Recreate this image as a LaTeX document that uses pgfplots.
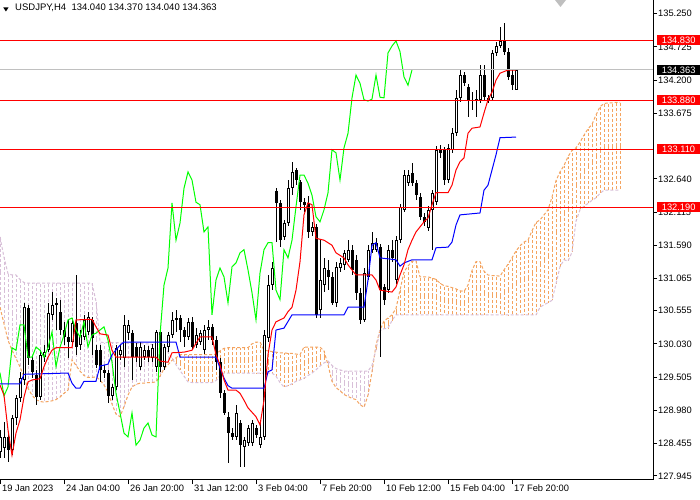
\documentclass[border=0pt]{standalone}
\usepackage{fontspec}
\setmainfont{Liberation Sans}
\usepackage{pgfplots}
\pgfplotsset{compat=1.18}
\usepackage{pgfplotstable}
\definecolor{sandy}{RGB}{244,164,96}
\definecolor{thistlec}{RGB}{216,191,216}
\definecolor{limeg}{RGB}{0,255,0}
\definecolor{silverc}{RGB}{192,192,192}

\pgfplotstableread{
i O H L C
0 128.32 128.67 128.23 128.56
1 128.39 128.80 128.23 128.56
2 128.56 128.62 128.16 128.35
3 128.35 128.91 128.27 128.86
4 128.86 129.22 128.75 129.18
5 129.18 129.59 129.11 129.49
6 129.46 130.68 129.38 130.61
7 130.60 130.65 129.70 129.81
8 129.78 129.86 129.49 129.59
9 129.54 129.62 129.07 129.19
10 129.19 129.93 129.14 129.86
11 129.82 130.01 129.75 129.90
12 129.93 130.68 129.90 130.52
13 130.49 130.85 130.41 130.65
14 130.65 130.76 130.25 130.68
15 130.54 130.73 130.17 130.25
16 130.25 130.38 130.01 130.14
17 130.14 130.41 129.81 130.06
18 130.06 130.44 130.01 130.36
19 130.36 131.12 129.86 129.98
20 130.01 130.25 129.93 130.17
21 130.14 130.49 130.09 130.41
22 130.22 130.54 130.17 130.46
23 130.41 130.46 129.86 130.12
24 129.93 130.01 129.65 129.70
25 129.93 130.01 129.43 129.62
26 129.62 129.70 129.49 129.57
27 129.57 129.62 129.10 129.21
28 129.21 129.40 129.14 129.35
29 129.35 130.01 129.30 129.97
30 129.86 130.01 129.78 129.93
31 129.81 130.49 129.67 130.33
32 130.20 130.41 130.09 130.33
33 130.20 130.25 129.46 129.82
34 129.98 130.05 129.75 129.82
35 129.67 130.06 129.62 129.98
36 129.82 130.01 129.78 129.93
37 129.93 130.00 129.75 129.82
38 129.81 130.03 129.75 129.97
39 129.67 130.25 129.59 130.22
40 130.22 130.28 129.59 129.67
41 129.67 130.03 129.62 129.98
42 129.98 130.22 129.90 130.17
43 130.17 130.54 130.12 130.41
44 130.41 130.57 130.22 130.44
45 130.44 130.49 130.06 130.25
46 130.25 130.30 129.98 130.14
47 130.14 130.44 130.09 130.38
48 130.38 130.46 129.93 129.98
49 130.01 130.28 129.97 130.17
50 130.06 130.25 130.01 130.20
51 129.93 130.33 129.87 130.25
52 130.25 130.41 130.09 130.30
53 130.30 130.35 130.01 130.09
54 130.09 130.16 129.62 129.74
55 129.74 129.81 129.18 129.25
56 129.25 129.30 128.91 128.94
57 128.88 128.95 128.15 128.62
58 128.62 128.70 128.51 128.56
59 128.56 129.07 128.51 128.94
60 128.78 128.83 128.08 128.43
61 128.40 128.56 128.08 128.51
62 128.46 128.75 128.42 128.70
63 128.46 128.83 128.42 128.78
64 128.70 128.75 128.54 128.59
65 128.43 128.83 128.39 128.56
66 128.56 130.25 128.51 130.17
67 130.12 131.12 130.06 130.96
68 130.96 131.33 130.88 131.23
69 132.45 132.50 131.64 132.26
70 132.26 132.31 131.56 131.67
71 131.72 131.99 131.67 131.94
72 131.94 132.62 131.89 132.49
73 132.49 132.91 132.38 132.75
74 132.78 132.81 132.54 132.62
75 132.59 132.62 132.15 132.27
76 132.27 132.34 132.12 132.23
77 132.26 132.37 131.71 131.80
78 131.80 131.96 131.74 131.88
79 131.88 131.93 130.44 130.49
80 130.57 131.67 130.44 131.04
81 130.96 131.39 130.85 131.23
82 131.20 131.36 130.88 131.09
83 131.09 131.17 130.65 130.68
84 130.68 131.33 130.61 131.25
85 131.23 131.39 131.17 131.31
86 131.28 131.52 131.20 131.47
87 131.36 131.67 131.33 131.52
88 131.52 131.59 131.12 131.20
89 131.36 131.44 130.73 130.84
90 130.84 130.91 130.35 130.41
91 130.41 131.23 130.38 131.15
92 131.09 131.59 131.04 131.52
93 131.52 131.80 131.47 131.63
94 131.52 131.70 131.48 131.63
95 131.56 131.61 129.82 130.88
96 130.93 130.98 130.65 130.73
97 130.88 131.59 130.84 131.52
98 131.52 131.67 131.33 131.39
99 131.04 131.74 130.98 131.67
100 131.67 132.24 131.63 132.20
101 132.15 132.78 132.12 132.70
102 132.57 132.78 132.53 132.70
103 132.73 132.89 132.53 132.57
104 132.57 132.62 132.31 132.38
105 132.35 132.42 131.99 132.04
106 132.04 132.10 131.89 131.96
107 131.86 132.21 131.81 132.15
108 132.15 132.46 131.52 132.42
109 132.27 133.16 132.23 133.10
110 133.10 133.18 132.97 133.05
111 133.10 133.14 132.54 132.62
112 132.62 133.19 132.57 133.13
113 133.10 133.44 133.05 133.36
114 133.36 134.04 133.32 133.92
115 133.92 134.36 133.85 134.28
116 134.28 134.33 134.11 134.15
117 134.09 134.14 133.62 133.89
118 133.89 134.01 133.73 133.87
119 133.89 134.04 133.62 133.90
120 133.89 134.44 133.84 134.28
121 134.28 134.44 133.89 133.93
122 133.89 133.97 133.84 133.92
123 133.92 134.68 133.87 134.63
124 134.63 134.80 134.58 134.74
125 134.74 135.04 134.71 134.82
126 134.82 135.10 134.60 134.65
127 134.65 134.71 134.20 134.25
128 134.28 134.36 134.04 134.12
129 134.040 134.370 134.040 134.363
}\candles

% Senkou span A and B, one row per bar (already shifted forward)
\pgfplotstableread{
i a b
0 130.61 131.72
1 130.35 131.40
2 130.09 131.14
3 129.93 131.12
4 129.80 131.12
5 129.67 131.05
6 129.50 131.00
7 129.33 130.99
8 129.22 130.99
9 129.15 130.99
10 129.12 130.99
11 129.11 130.99
12 129.12 130.99
13 129.13 130.99
14 129.15 130.99
15 129.19 130.99
16 129.25 130.99
17 129.30 130.99
18 129.78 130.99
19 129.69 130.99
20 129.60 130.99
21 129.53 130.99
22 129.50 130.99
23 129.50 130.99
24 129.51 130.70
25 129.46 130.06
26 129.38 130.05
27 129.27 130.05
28 129.08 130.05
29 128.92 130.05
30 128.88 130.05
31 129.04 130.05
32 129.22 130.04
33 129.35 130.04
34 129.39 130.04
35 129.41 130.04
36 129.41 130.03
37 129.42 130.03
38 129.42 130.02
39 129.43 130.02
40 129.52 130.01
41 129.64 130.01
42 129.70 129.90
43 129.77 129.81
44 129.81 129.70
45 129.86 129.61
46 129.86 129.52
47 129.86 129.43
48 129.86 129.42
49 129.86 129.42
50 129.86 129.42
51 129.86 129.42
52 129.86 129.42
53 129.86 129.42
54 129.87 129.45
55 129.92 129.53
56 129.96 129.57
57 129.97 129.57
58 129.97 129.57
59 129.97 129.57
60 129.97 129.57
61 129.97 129.57
62 129.97 129.57
63 130.03 129.57
64 130.06 129.57
65 130.06 129.57
66 129.93 129.57
67 129.92 129.57
68 129.91 129.57
69 129.90 129.52
70 129.89 129.42
71 129.89 129.35
72 129.88 129.37
73 129.88 129.40
74 129.87 129.44
75 129.86 129.46
76 129.98 129.49
77 129.98 129.53
78 129.98 129.57
79 129.98 129.62
80 129.98 129.68
81 129.92 129.73
82 129.70 129.76
83 129.44 129.69
84 129.34 129.64
85 129.29 129.62
86 129.23 129.60
87 129.20 129.60
88 129.17 129.60
89 129.15 129.60
90 129.07 129.60
91 129.03 129.60
92 129.22 129.60
93 129.59 129.69
94 130.01 129.94
95 130.25 130.24
96 130.39 130.27
97 130.44 130.28
98 130.49 130.40
99 130.59 130.49
100 130.88 130.49
101 131.17 130.49
102 131.26 130.49
103 131.34 130.49
104 131.34 130.49
105 131.09 130.49
106 131.09 130.49
107 131.09 130.49
108 131.07 130.49
109 131.05 130.49
110 130.99 130.49
111 130.95 130.49
112 130.94 130.49
113 130.92 130.49
114 130.90 130.49
115 130.87 130.49
116 130.86 130.49
117 130.96 130.49
118 131.19 130.49
119 131.33 130.49
120 131.33 130.49
121 131.18 130.49
122 131.12 130.49
123 131.11 130.49
124 131.11 130.49
125 131.10 130.49
126 131.20 130.49
127 131.29 130.49
128 131.39 130.49
129 131.50 130.49
130 131.58 130.49
131 131.64 130.49
132 131.67 130.49
133 131.82 130.49
134 131.95 130.49
135 131.99 130.61
136 132.07 130.65
137 132.15 130.68
138 132.35 130.72
139 132.61 130.98
140 132.75 131.25
141 132.85 131.36
142 132.99 131.34
143 133.09 131.48
144 133.13 131.97
145 133.22 132.15
146 133.33 132.21
147 133.43 132.25
148 133.50 132.30
149 133.65 132.34
150 133.78 132.41
151 133.83 132.46
152 133.84 132.46
153 133.84 132.46
154 133.85 132.46
155 133.85 132.46
}\spans

\pgfplotstableread{
i t
0 129.38
1 129.22
2 128.67
3 128.27
4 128.62
5 128.83
6 129.19
7 129.43
8 129.46
10 129.48
11 129.67
12 129.82
13 129.93
14 129.97
18 129.97
19 130.41
23 130.42
24 130.30
25 130.19
27 130.17
28 129.93
29 129.82
39 129.82
40 129.76
42 129.74
43 129.89
46 129.90
48 129.93
49 130.04
50 130.14
53 130.14
54 129.86
55 129.70
56 129.46
57 129.30
59 129.30
60 129.25
61 129.14
62 129.02
63 128.95
64 128.88
65 128.75
66 129.14
67 129.86
68 130.25
69 130.38
71 130.44
72 130.54
73 130.61
74 130.88
75 131.33
76 132.07
77 132.26
78 132.23
79 131.70
81 131.67
83 131.59
84 131.47
86 131.39
87 131.28
89 131.12
93 131.12
94 131.04
95 130.88
98 130.85
99 130.93
100 131.12
101 131.28
102 131.52
103 131.67
104 131.80
106 131.96
107 132.02
108 132.23
109 132.42
112 132.42
113 132.54
114 132.78
115 132.91
116 132.97
117 133.36
118 133.44
120 133.46
121 133.68
122 133.89
123 134.01
124 134.20
125 134.31
127 134.36
129 134.36
}\tenkan

\pgfplotstableread{
i k
0 129.40
5 129.40
6 129.55
17 129.57
18 129.41
19 129.33
20 129.33
21 129.44
24 129.44
25 129.68
27 129.71
28 129.86
30 130.01
31 130.06
44 130.06
45 129.82
54 129.82
55 129.65
56 129.49
57 129.37
58 129.33
66 129.33
67 129.59
68 129.62
69 130.25
71 130.28
73 130.49
86 130.49
87 130.61
91 130.61
92 131.04
93 131.59
94 131.63
95 131.39
99 131.36
100 131.26
101 131.31
103 131.36
108 131.36
109 131.55
112 131.56
113 131.64
114 131.91
115 132.07
120 132.10
121 132.46
122 132.54
123 132.78
124 133.02
125 133.29
129 133.30
}\kijun

\begin{document}
\begin{tikzpicture}
\path[use as bounding box, fill=white] (0,0) rectangle (700bp,500bp);
\begin{axis}[
  at={(0bp,20bp)}, anchor=south west,
  scale only axis, width=653bp, height=480bp,
  xmin=0, xmax=163.25, ymin=127.879, ymax=135.467,
  axis x line*=bottom, axis y line*=right,
  axis line style={black, line width=1bp, -},
  tick style={black, line width=1bp},
  tick align=outside, major tick length=4bp,
  xtick={0,16,32,48,64,80,96,112,128},
  xticklabels={19 Jan 2023, 24 Jan 04:00, 26 Jan 20:00, 31 Jan 12:00, 3 Feb 04:00, 7 Feb 20:00, 10 Feb 12:00, 15 Feb 04:00, 17 Feb 20:00},
  ytick={127.945,128.455,128.980,129.505,130.030,130.555,131.065,131.590,132.115,132.640,133.675,134.200,134.725,135.250},
  /pgf/number format/assume math mode=true,
  /pgf/number format/fixed,
  /pgf/number format/fixed zerofill,
  /pgf/number format/precision=3,
  tick label style={font=\fontsize{9.3bp}{10bp}\selectfont, text=black},
  xticklabel style={anchor=north west, inner sep=0pt, xshift=2bp, yshift=-1bp},
  yticklabel style={anchor=west, inner sep=0pt, xshift=1bp},
  ebar/.style={draw=none, mark=none, forget plot, error bars/y dir=both, error bars/y explicit, error bars/error mark=none},
]
% cloud hatch: one dotted vertical line per bar between span A and span B
\addplot[ebar, restrict expr to domain={\thisrow{a}-\thisrow{b}}{0:20},
  error bars/error bar style={draw=sandy, line width=1bp, dash pattern=on 3bp off 2bp}]
  table[x=i, y expr={(\thisrow{a}+\thisrow{b})/2}, y error expr={abs(\thisrow{a}-\thisrow{b})/2}] {\spans};
\addplot[ebar, restrict expr to domain={\thisrow{b}-\thisrow{a}}{0:20},
  error bars/error bar style={draw=thistlec, line width=1bp, dash pattern=on 3bp off 2bp}]
  table[x=i, y expr={(\thisrow{a}+\thisrow{b})/2}, y error expr={abs(\thisrow{a}-\thisrow{b})/2}] {\spans};
\addplot[sandy, line width=1bp, dash pattern=on 3bp off 2bp] table[x=i, y=a] {\spans};
\addplot[thistlec, line width=1bp, dash pattern=on 3bp off 2bp] table[x=i, y=b] {\spans};
% candles: wicks
\addplot[ebar, error bars/error bar style={draw=black, solid, line width=1bp}]
  table[x=i, y expr={(\thisrow{H}+\thisrow{L})/2}, y error expr={(\thisrow{H}-\thisrow{L})/2}] {\candles};
% bodies
\addplot[ebar, error bars/error bar style={draw=black, solid, line width=3bp}]
  table[x=i, y expr={(\thisrow{O}+\thisrow{C})/2}, y error expr={max(abs(\thisrow{C}-\thisrow{O})/2,0.008)}] {\candles};
% hollow interiors of rising candles
\addplot[ebar, restrict expr to domain={\thisrow{C}-\thisrow{O}}{0.035:100},
  error bars/error bar style={draw=white, solid, line width=1bp}]
  table[x=i, y expr={(\thisrow{O}+\thisrow{C})/2}, y error expr={(\thisrow{C}-\thisrow{O})/2-0.0158}] {\candles};
% ichimoku lines
\addplot[limeg, line width=1bp] table[x expr=\thisrow{i}-26, y=C] {\candles};
\addplot[blue, line width=1bp] table[x=i, y=k] {\kijun};
\addplot[red, line width=1bp] table[x=i, y=t] {\tenkan};
% horizontal levels
\addplot[silverc, line width=1bp] coordinates {(0,134.363) (163.25,134.363)};
\addplot[red, line width=1bp] coordinates {(0,134.83) (163.25,134.83)};
\addplot[red, line width=1bp] coordinates {(0,133.88) (163.25,133.88)};
\addplot[red, line width=1bp] coordinates {(0,133.11) (163.25,133.11)};
\addplot[red, line width=1bp] coordinates {(0,132.19) (163.25,132.19)};
\coordinate (h1) at (axis cs:163.25,134.83);
\coordinate (h2) at (axis cs:163.25,133.88);
\coordinate (h3) at (axis cs:163.25,133.11);
\coordinate (h4) at (axis cs:163.25,132.19);
\coordinate (hp) at (axis cs:163.25,134.363);
\end{axis}
\tikzset{lvl/.style={anchor=west, inner sep=0pt, minimum width=43bp, minimum height=10bp, text=white, font=\fontsize{9.3bp}{10bp}\selectfont}}
\node[lvl, fill=red] at ([xshift=4bp]h1) {134.830};
\node[lvl, fill=red] at ([xshift=4bp]h2) {133.880};
\node[lvl, fill=red] at ([xshift=4bp]h3) {133.110};
\node[lvl, fill=red] at ([xshift=4bp]h4) {132.190};
\node[lvl, fill=black] at ([xshift=4bp]hp) {134.363};
\fill[black] (3.3bp,492.5bp) -- (8.5bp,492.5bp) -- (5.9bp,488.5bp) -- cycle;
\node[anchor=base west, inner sep=0pt, font=\fontsize{9.5bp}{10bp}\selectfont] at (15bp,489bp) {USDJPY,H4\ \ 134.040 134.370 134.040 134.363};
\fill[black!25] (555bp,500bp) -- (566bp,500bp) -- (560.5bp,493bp) -- cycle;
\end{tikzpicture}
\end{document}
